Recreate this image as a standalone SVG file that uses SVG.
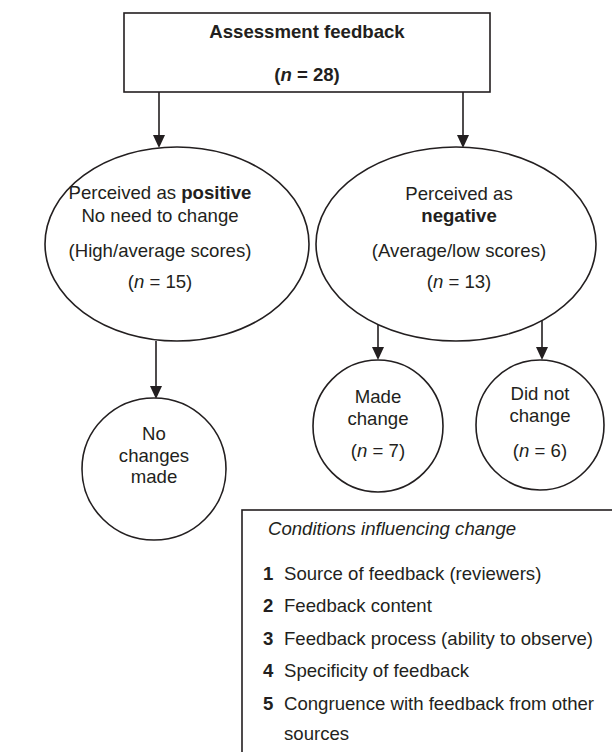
<svg xmlns="http://www.w3.org/2000/svg" width="612" height="752" viewBox="0 0 612 752">
<defs>
<style>
.ln{stroke:#231f20;stroke-width:1.6;fill:none}
.sh{stroke:#231f20;stroke-width:1.6;fill:#fff}
.ah{fill:#231f20}
text{font-family:"Liberation Sans",Arial,sans-serif;font-size:18.6px;fill:#231f20}
.c{text-anchor:middle}
.b{font-weight:bold}
.i{font-style:italic}
</style>
</defs>
<rect width="612" height="752" fill="#fff"/>
<g id="connectors">
<line class="ln" x1="159" y1="92" x2="159" y2="136"/>
<polygon class="ah" points="153,135 165,135 159,148"/>
<line class="ln" x1="463" y1="92" x2="463" y2="136"/>
<polygon class="ah" points="457,135 469,135 463,148"/>
<line class="ln" x1="156" y1="341" x2="156" y2="387"/>
<polygon class="ah" points="150,386 162,386 156,399"/>
<line class="ln" x1="378" y1="324" x2="378" y2="348"/>
<polygon class="ah" points="372,347 384,347 378,360"/>
<line class="ln" x1="542" y1="320" x2="542" y2="348"/>
<polygon class="ah" points="536,347 548,347 542,360"/>
</g>
<g id="assessment">
<rect class="sh" x="124" y="13" width="366" height="79"/>
<text class="c b" x="307" y="38">Assessment feedback</text>
<text class="c b" x="307" y="81">(<tspan class="i">n</tspan> = 28)</text>
</g>
<g id="positive">
<ellipse class="sh" cx="177" cy="244" rx="132" ry="97"/>
<text class="c" x="160" y="199">Perceived as <tspan class="b">positive</tspan></text>
<text class="c" x="160" y="222">No need to change</text>
<text class="c" x="160" y="257">(High/average scores)</text>
<text class="c" x="160" y="288">(<tspan class="i">n</tspan> = 15)</text>
</g>
<g id="negative">
<ellipse class="sh" cx="456" cy="244" rx="140" ry="97"/>
<text class="c" x="459" y="200">Perceived as</text>
<text class="c b" x="459" y="222">negative</text>
<text class="c" x="459" y="257">(Average/low scores)</text>
<text class="c" x="459" y="288">(<tspan class="i">n</tspan> = 13)</text>
</g>
<g id="nochanges">
<ellipse class="sh" cx="154" cy="469" rx="72" ry="71"/>
<text class="c" x="154" y="440">No</text>
<text class="c" x="154" y="462">changes</text>
<text class="c" x="154" y="483">made</text>
</g>
<g id="madechange">
<ellipse class="sh" cx="378" cy="426" rx="65" ry="66"/>
<text class="c" x="378" y="403">Made</text>
<text class="c" x="378" y="425">change</text>
<text class="c" x="378" y="457">(<tspan class="i">n</tspan> = 7)</text>
</g>
<g id="didnotchange">
<ellipse class="sh" cx="540" cy="425" rx="64" ry="65"/>
<text class="c" x="540" y="400">Did not</text>
<text class="c" x="540" y="422">change</text>
<text class="c" x="540" y="457">(<tspan class="i">n</tspan> = 6)</text>
</g>
<g id="conditions">
<rect class="sh" x="242" y="510" width="380" height="260"/>
<text class="i" x="268" y="535">Conditions influencing change</text>
<text class="b" x="263" y="580">1</text><text x="284" y="580">Source of feedback (reviewers)</text>
<text class="b" x="263" y="612">2</text><text x="284" y="612">Feedback content</text>
<text class="b" x="263" y="645">3</text><text x="284" y="645">Feedback process (ability to observe)</text>
<text class="b" x="263" y="677">4</text><text x="284" y="677">Specificity of feedback</text>
<text class="b" x="263" y="710">5</text><text x="284" y="710">Congruence with feedback from other</text>
<text x="284" y="740">sources</text>
</g>
</svg>
